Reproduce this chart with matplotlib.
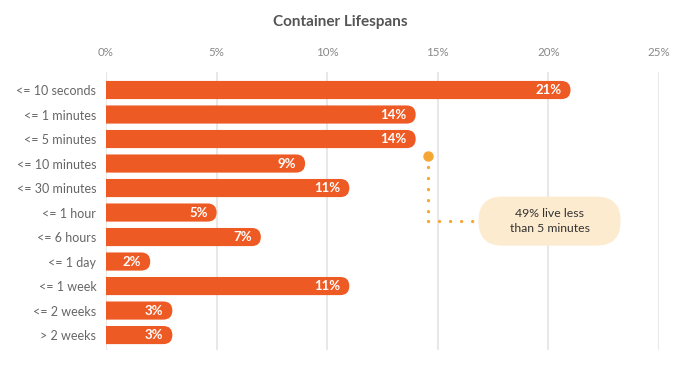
import matplotlib.pyplot as plt
from matplotlib.patches import FancyBboxPatch

plt.rcParams['font.family'] = ['Lato', 'DejaVu Sans']

# data
categories = ['<= 10 seconds', '<= 1 minutes', '<= 5 minutes', '<= 10 minutes',
              '<= 30 minutes', '<= 1 hour', '<= 6 hours', '<= 1 day',
              '<= 1 week', '<= 2 weeks', '> 2 weeks']
values = [21, 14, 14, 9, 11, 5, 7, 2, 11, 3, 3]
ticks = [0, 5, 10, 15, 20, 25]
note = '49% live less\nthan 5 minutes'

bar_color = '#EE5A24'
dot_color = '#F5A733'
W, H = 680, 373
fig = plt.figure(figsize=(W / 100, H / 100), dpi=100)
ax = fig.add_axes([106 / W, 23 / H, 553 / W, 278 / H])
ax.set_xlim(0, 25)
ax.set_ylim(10.61, -0.735)

# pixel scales for rounding the bar ends
px_x = 553 / 25
px_y = 278 / (10.61 + 0.735)
bar_h = 0.74
r_px = bar_h * px_y / 2
rx = r_px / px_x
ry = r_px / px_y

for t in ticks:
    ax.axvline(t, color='#e8e8e8', lw=1.5, zorder=0)

# bars start left of the axes, so the clip squares off the left end
for i, v in enumerate(values):
    p = FancyBboxPatch((-rx, i - bar_h / 2), v + rx, bar_h,
                       boxstyle=f'round,pad=0,rounding_size={rx}',
                       mutation_aspect=ry / rx,
                       fc=bar_color, ec='none', zorder=2)
    ax.add_patch(p)
    ax.text(v - 9 / px_x, i, f'{v}%', ha='right', va='center', color='white',
            fontsize=9.5, fontweight='bold', zorder=3)

ax.set_yticks(range(len(categories)))
ax.set_yticklabels(categories, fontsize=9, color='#666666')
ax.set_xticks(ticks)
ax.set_xticklabels([f'{t}%' for t in ticks], fontsize=8.3, color='#888888')
ax.xaxis.tick_top()
ax.tick_params(length=0)
ax.tick_params(axis='y', pad=7)
ax.tick_params(axis='x', pad=10)
for s in ax.spines.values():
    s.set_visible(False)

# annotation
dot_x, dot_y = 14.57, 2.69
corner_y = 5.35
ax.plot([dot_x], [dot_y], 'o', color=dot_color, ms=6.5, zorder=4)
ax.plot([dot_x, dot_x], [dot_y + 0.44, corner_y], ls=(0, (0.01, 3.3)),
        color=dot_color, lw=2.4, dash_capstyle='round', zorder=4)
ax.plot([dot_x, 16.6], [corner_y, corner_y], ls=(0, (0.01, 3.3)),
        color=dot_color, lw=2.4, dash_capstyle='round', zorder=4)

box_cx, box_w, box_h = 20.05, 142 / px_x, 49 / px_y
brx = 24 / px_x
bry = 24 / px_y
box = FancyBboxPatch((box_cx - box_w / 2, corner_y - box_h / 2), box_w, box_h,
                     boxstyle=f'round,pad=0,rounding_size={brx}',
                     mutation_aspect=bry / brx, fc='#FDEBCF', ec='none', zorder=4)
ax.add_patch(box)
ax.text(box_cx, corner_y, note, ha='center', va='center', fontsize=8.8,
        color='#333333', linespacing=1.5, zorder=5)

fig.text(0.5, 1 - 22 / H, 'Container Lifespans', ha='center', va='center',
         fontsize=11, fontweight='bold', color='#555555')

fig.savefig('out.png', dpi=100, facecolor='white')
